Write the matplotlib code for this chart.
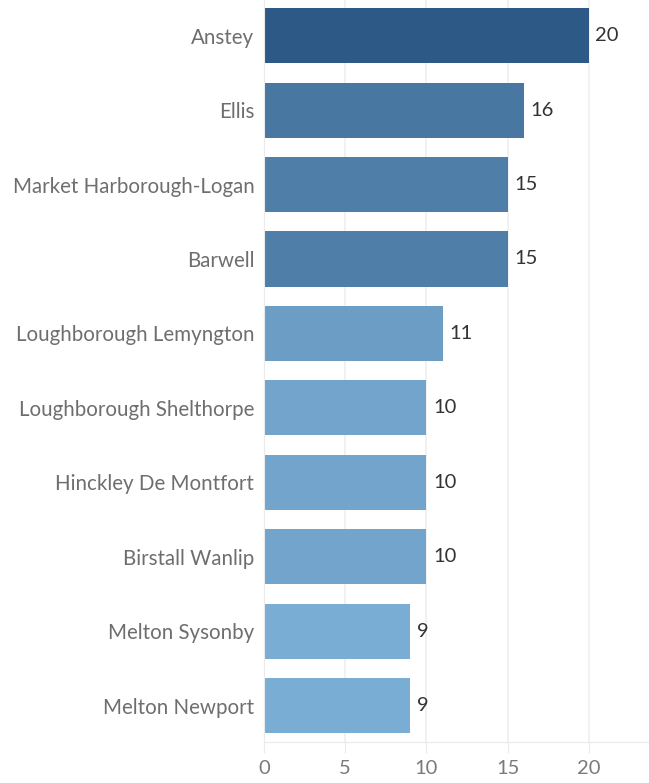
import matplotlib.pyplot as plt
import numpy as np
from matplotlib.colors import LinearSegmentedColormap

names = ['Anstey', 'Ellis', 'Market Harborough-Logan', 'Barwell',
         'Loughborough Lemyngton', 'Loughborough Shelthorpe',
         'Hinckley De Montfort', 'Birstall Wanlip', 'Melton Sysonby',
         'Melton Newport']
counts = [20, 16, 15, 15, 11, 10, 10, 10, 9, 9]
xticks = [0, 5, 10, 15, 20]

plt.rcParams['font.family'] = ['Lato', 'DejaVu Sans']

fig = plt.figure(figsize=(6.49, 7.83), dpi=100)
ax = fig.add_axes([264 / 649, 1 - 742 / 783, 1 - 264 / 649, 742 / 783])

# sequential blue, light for low values and dark for high
cmap = LinearSegmentedColormap.from_list('tab_blue', ['#7aadd3', '#2c5985'])
lo, hi = min(counts), max(counts)
colors = [cmap((c - lo) / (hi - lo)) for c in counts]

y = np.arange(len(names))
ax.barh(y, counts, height=0.74, color=colors, zorder=2)

for yi, c in zip(y, counts):
    ax.text(c + 0.4, yi, str(c), va='center', ha='left',
            fontsize=14.5, color='#333333')

ax.set_xlim(0, 23.7)
ax.set_ylim(len(names) - 0.51, -0.48)
ax.set_yticks(y)
ax.set_yticklabels(names, fontsize=14.8, color='#6e6e6e')
ax.set_xticks(xticks)
ax.set_xticklabels([str(t) for t in xticks], fontsize=14.5, color='#7a7a7a')

ax.grid(axis='x', color='#efefef', linewidth=1.2, zorder=0)
for side in ['top', 'right']:
    ax.spines[side].set_visible(False)
ax.spines['left'].set_color('#eaeaea')
ax.spines['bottom'].set_color('#eaeaea')
ax.tick_params(axis='y', length=0, pad=7)
ax.tick_params(axis='x', length=8, color='#eaeaea', pad=5)

plt.savefig('out.png', dpi=100)
